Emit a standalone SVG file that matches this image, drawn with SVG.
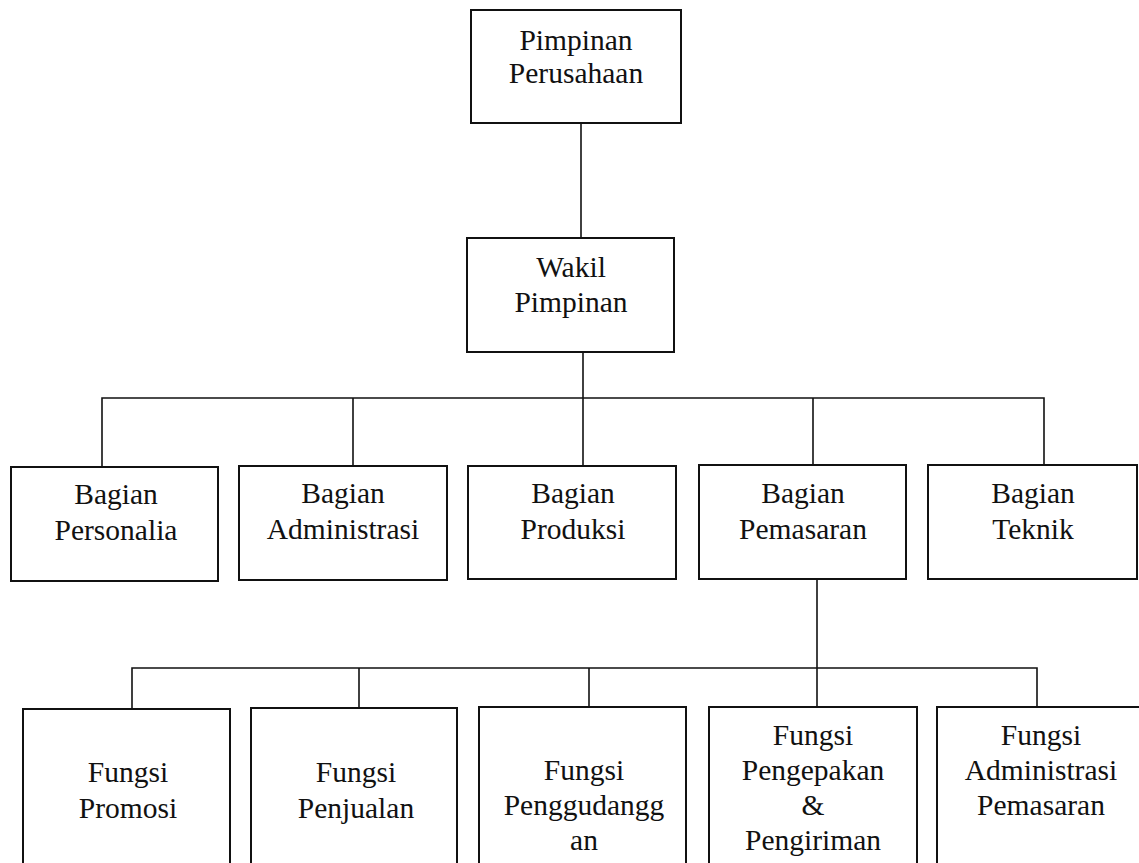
<svg xmlns="http://www.w3.org/2000/svg" width="1139" height="863" viewBox="0 0 1139 863">
<style>
.box{fill:#fff;stroke:#111;stroke-width:2}
.ln{fill:none;stroke:#111;stroke-width:1.6}
</style>
<rect width="1139" height="863" fill="#fff"/>
<g id="connectors">
<line class="ln" x1="581" y1="123" x2="581" y2="238"/>
<line class="ln" x1="583" y1="352" x2="583" y2="466"/>
<polyline class="ln" points="102,467 102,398 1044,398 1044,465"/>
<line class="ln" x1="353" y1="398" x2="353" y2="466"/>
<line class="ln" x1="813" y1="398" x2="813" y2="465"/>
<line class="ln" x1="817" y1="579" x2="817" y2="707"/>
<polyline class="ln" points="132,709 132,668 1037,668 1037,707"/>
<line class="ln" x1="359" y1="668" x2="359" y2="708"/>
<line class="ln" x1="589" y1="668" x2="589" y2="707"/>
</g>
<g font-family="'Liberation Serif', 'Times New Roman', serif" font-size="29.5" fill="#111" text-anchor="middle">
<g id="pimpinan"><rect class="box" x="471" y="10" width="210" height="113"/><text x="576" y="50">Pimpinan</text><text x="576" y="83">Perusahaan</text></g>
<g id="wakil"><rect class="box" x="467" y="238" width="207" height="114"/><text x="571" y="277">Wakil</text><text x="571" y="312">Pimpinan</text></g>
<g id="personalia"><rect class="box" x="11" y="467" width="207" height="114"/><text x="116" y="504">Bagian</text><text x="116" y="540">Personalia</text></g>
<g id="administrasi"><rect class="box" x="239" y="466" width="208" height="114"/><text x="343" y="503">Bagian</text><text x="343" y="539">Administrasi</text></g>
<g id="produksi"><rect class="box" x="468" y="466" width="208" height="113"/><text x="573" y="503">Bagian</text><text x="573" y="539">Produksi</text></g>
<g id="pemasaran"><rect class="box" x="699" y="465" width="207" height="114"/><text x="803" y="503">Bagian</text><text x="803" y="539">Pemasaran</text></g>
<g id="teknik"><rect class="box" x="928" y="465" width="209" height="114"/><text x="1033" y="503">Bagian</text><text x="1033" y="539">Teknik</text></g>
<g id="promosi"><rect class="box" x="23" y="709" width="207" height="170"/><text x="128" y="782">Fungsi</text><text x="128" y="818">Promosi</text></g>
<g id="penjualan"><rect class="box" x="251" y="708" width="206" height="170"/><text x="356" y="782">Fungsi</text><text x="356" y="818">Penjualan</text></g>
<g id="penggudangan"><rect class="box" x="479" y="707" width="207" height="170"/><text x="584" y="780">Fungsi</text><text x="584" y="815">Penggudangg</text><text x="584" y="850">an</text></g>
<g id="pengepakan"><rect class="box" x="709" y="707" width="208" height="170"/><text x="813" y="745">Fungsi</text><text x="813" y="780">Pengepakan</text><text x="813" y="815">&amp;</text><text x="813" y="850">Pengiriman</text></g>
<g id="adm-pemasaran"><rect class="box" x="937" y="707" width="208" height="170"/><text x="1041" y="745">Fungsi</text><text x="1041" y="780">Administrasi</text><text x="1041" y="815">Pemasaran</text></g>
</g>
</svg>
